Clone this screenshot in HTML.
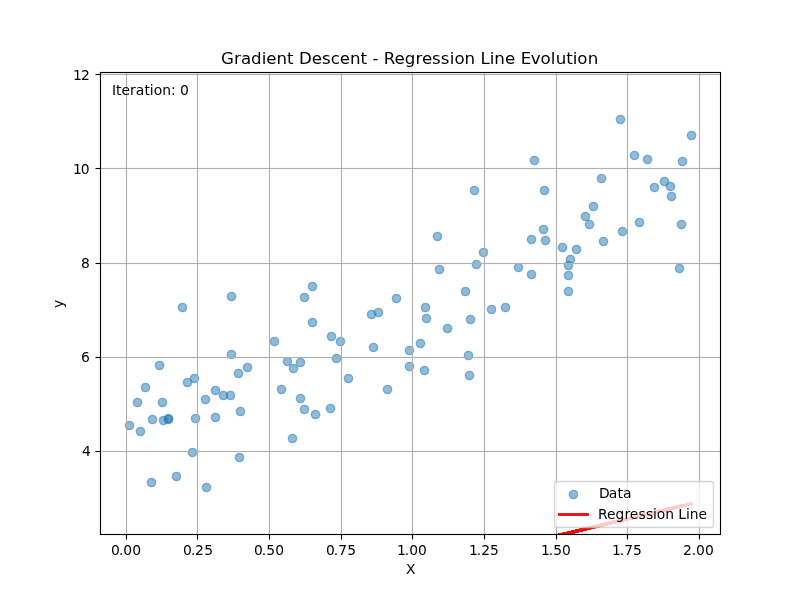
<!DOCTYPE html>
<html lang="en">
<head>
<meta charset="utf-8">
<title>Gradient Descent - Regression Line Evolution</title>
<style>
html,body{margin:0;padding:0;background:#fff;overflow:hidden}
body{width:800px;height:600px}
svg{display:block;position:absolute;left:0;top:0}
text{font-family:"DejaVu Sans","Liberation Sans",sans-serif;fill:#000;text-rendering:auto;font-kerning:none;white-space:pre}
.t10{font-size:13.889px}
.t12{font-size:16.667px}
.g{stroke:#b0b0b0;stroke-width:1.111;fill:none}
.k{stroke:#000;stroke-width:1.111;fill:none}
.d{fill:#1f77b4;fill-opacity:.5;stroke:#1f77b4;stroke-opacity:.5;stroke-width:1.389}
</style>
</head>
<body>
<svg width="800" height="600" viewBox="0 0 800 600">
<rect width="800" height="600" fill="#fff"/>
<g>
<circle class="d" cx="340.5" cy="341.5" r="4.167"/>
<circle class="d" cx="671.5" cy="196.5" r="4.167"/>
<circle class="d" cx="545.5" cy="240.5" r="4.167"/>
<circle class="d" cx="469.5" cy="375.5" r="4.167"/>
<circle class="d" cx="215.5" cy="417.5" r="4.167"/>
<circle class="d" cx="215.5" cy="390.5" r="4.167"/>
<circle class="d" cx="159.5" cy="365.5" r="4.167"/>
<circle class="d" cx="622.5" cy="231.5" r="4.167"/>
<circle class="d" cx="470.5" cy="319.5" r="4.167"/>
<circle class="d" cx="531.5" cy="274.5" r="4.167"/>
<circle class="d" cx="137.5" cy="402.5" r="4.167"/>
<circle class="d" cx="682.5" cy="161.5" r="4.167"/>
<circle class="d" cx="603.5" cy="241.5" r="4.167"/>
<circle class="d" cx="247.5" cy="367.5" r="4.167"/>
<circle class="d" cx="230.5" cy="395.5" r="4.167"/>
<circle class="d" cx="231.5" cy="354.5" r="4.167"/>
<circle class="d" cx="300.5" cy="398.5" r="4.167"/>
<circle class="d" cx="426.5" cy="318.5" r="4.167"/>
<circle class="d" cx="373.5" cy="347.5" r="4.167"/>
<circle class="d" cx="292.5" cy="438.5" r="4.167"/>
<circle class="d" cx="476.5" cy="264.5" r="4.167"/>
<circle class="d" cx="205.5" cy="399.5" r="4.167"/>
<circle class="d" cx="293.5" cy="368.5" r="4.167"/>
<circle class="d" cx="336.5" cy="358.5" r="4.167"/>
<circle class="d" cx="387.5" cy="389.5" r="4.167"/>
<circle class="d" cx="576.5" cy="249.5" r="4.167"/>
<circle class="d" cx="240.5" cy="411.5" r="4.167"/>
<circle class="d" cx="420.5" cy="343.5" r="4.167"/>
<circle class="d" cx="465.5" cy="291.5" r="4.167"/>
<circle class="d" cx="152.5" cy="419.5" r="4.167"/>
<circle class="d" cx="474.5" cy="190.5" r="4.167"/>
<circle class="d" cx="223.5" cy="395.5" r="4.167"/>
<circle class="d" cx="163.5" cy="420.5" r="4.167"/>
<circle class="d" cx="670.5" cy="186.5" r="4.167"/>
<circle class="d" cx="679.5" cy="268.5" r="4.167"/>
<circle class="d" cx="589.5" cy="224.5" r="4.167"/>
<circle class="d" cx="300.5" cy="362.5" r="4.167"/>
<circle class="d" cx="182.5" cy="307.5" r="4.167"/>
<circle class="d" cx="518.5" cy="267.5" r="4.167"/>
<circle class="d" cx="378.5" cy="312.5" r="4.167"/>
<circle class="d" cx="195.5" cy="418.5" r="4.167"/>
<circle class="d" cx="409.5" cy="366.5" r="4.167"/>
<circle class="d" cx="145.5" cy="387.5" r="4.167"/>
<circle class="d" cx="647.5" cy="159.5" r="4.167"/>
<circle class="d" cx="274.5" cy="341.5" r="4.167"/>
<circle class="d" cx="505.5" cy="307.5" r="4.167"/>
<circle class="d" cx="304.5" cy="297.5" r="4.167"/>
<circle class="d" cx="424.5" cy="370.5" r="4.167"/>
<circle class="d" cx="439.5" cy="269.5" r="4.167"/>
<circle class="d" cx="231.5" cy="296.5" r="4.167"/>
<circle class="d" cx="681.5" cy="224.5" r="4.167"/>
<circle class="d" cx="570.5" cy="259.5" r="4.167"/>
<circle class="d" cx="664.5" cy="181.5" r="4.167"/>
<circle class="d" cx="639.5" cy="222.5" r="4.167"/>
<circle class="d" cx="468.5" cy="355.5" r="4.167"/>
<circle class="d" cx="654.5" cy="187.5" r="4.167"/>
<circle class="d" cx="176.5" cy="476.5" r="4.167"/>
<circle class="d" cx="238.5" cy="373.5" r="4.167"/>
<circle class="d" cx="151.5" cy="482.5" r="4.167"/>
<circle class="d" cx="312.5" cy="286.5" r="4.167"/>
<circle class="d" cx="348.5" cy="378.5" r="4.167"/>
<circle class="d" cx="281.5" cy="389.5" r="4.167"/>
<circle class="d" cx="601.5" cy="178.5" r="4.167"/>
<circle class="d" cx="330.5" cy="408.5" r="4.167"/>
<circle class="d" cx="287.5" cy="361.5" r="4.167"/>
<circle class="d" cx="437.5" cy="236.5" r="4.167"/>
<circle class="d" cx="206.5" cy="487.5" r="4.167"/>
<circle class="d" cx="585.5" cy="216.5" r="4.167"/>
<circle class="d" cx="168.5" cy="418.5" r="4.167"/>
<circle class="d" cx="691.5" cy="135.5" r="4.167"/>
<circle class="d" cx="568.5" cy="291.5" r="4.167"/>
<circle class="d" cx="239.5" cy="457.5" r="4.167"/>
<circle class="d" cx="129.5" cy="425.5" r="4.167"/>
<circle class="d" cx="593.5" cy="206.5" r="4.167"/>
<circle class="d" cx="531.5" cy="239.5" r="4.167"/>
<circle class="d" cx="543.5" cy="229.5" r="4.167"/>
<circle class="d" cx="568.5" cy="265.5" r="4.167"/>
<circle class="d" cx="168.5" cy="419.5" r="4.167"/>
<circle class="d" cx="331.5" cy="336.5" r="4.167"/>
<circle class="d" cx="192.5" cy="452.5" r="4.167"/>
<circle class="d" cx="620.5" cy="119.5" r="4.167"/>
<circle class="d" cx="483.5" cy="252.5" r="4.167"/>
<circle class="d" cx="315.5" cy="414.5" r="4.167"/>
<circle class="d" cx="162.5" cy="402.5" r="4.167"/>
<circle class="d" cx="304.5" cy="409.5" r="4.167"/>
<circle class="d" cx="312.5" cy="322.5" r="4.167"/>
<circle class="d" cx="544.5" cy="190.5" r="4.167"/>
<circle class="d" cx="491.5" cy="309.5" r="4.167"/>
<circle class="d" cx="634.5" cy="155.5" r="4.167"/>
<circle class="d" cx="396.5" cy="298.5" r="4.167"/>
<circle class="d" cx="194.5" cy="378.5" r="4.167"/>
<circle class="d" cx="534.5" cy="160.5" r="4.167"/>
<circle class="d" cx="562.5" cy="247.5" r="4.167"/>
<circle class="d" cx="447.5" cy="328.5" r="4.167"/>
<circle class="d" cx="568.5" cy="275.5" r="4.167"/>
<circle class="d" cx="409.5" cy="350.5" r="4.167"/>
<circle class="d" cx="425.5" cy="307.5" r="4.167"/>
<circle class="d" cx="371.5" cy="314.5" r="4.167"/>
<circle class="d" cx="140.5" cy="431.5" r="4.167"/>
<circle class="d" cx="187.5" cy="382.5" r="4.167"/>
</g>
<g class="g" style="stroke-opacity:.06;stroke-width:3"><path d="M100.5 451.5H720.5"/><path d="M100.5 357.5H720.5"/><path d="M100.5 263.5H720.5"/><path d="M100.5 168.5H720.5"/><path d="M100.5 74.5H720.5"/></g>
<g class="g">
<path d="M126.5 72.5V534.5"/><path d="M197.5 72.5V534.5"/><path d="M269.5 72.5V534.5"/><path d="M341.5 72.5V534.5"/><path d="M412.5 72.5V534.5"/><path d="M484.5 72.5V534.5"/><path d="M556.5 72.5V534.5"/><path d="M627.5 72.5V534.5"/><path d="M699.5 72.5V534.5"/>
<path d="M100.5 451.5H720.5"/><path d="M100.5 357.5H720.5"/><path d="M100.5 263.5H720.5"/><path d="M100.5 168.5H720.5"/><path d="M100.5 74.5H720.5"/>
</g>
<g class="k">
<path d="M126.5 534.5V539.5"/><path d="M197.5 534.5V539.5"/><path d="M269.5 534.5V539.5"/><path d="M341.5 534.5V539.5"/><path d="M412.5 534.5V539.5"/><path d="M484.5 534.5V539.5"/><path d="M556.5 534.5V539.5"/><path d="M627.5 534.5V539.5"/><path d="M699.5 534.5V539.5"/>
<path d="M95.5 451.5H100.5"/><path d="M95.5 357.5H100.5"/><path d="M95.5 263.5H100.5"/><path d="M95.5 168.5H100.5"/><path d="M95.5 74.5H100.5"/>
</g>
<text class="t10" x="110.929 118.882 123.293 132.371" y="554.526">0.00</text>
<text class="t10" x="182.973 190.901 195.061 204.189" y="554.526">0.25</text>
<text class="t10" x="253.892 261.845 266.28 275.208" y="554.526">0.50</text>
<text class="t10" x="325.936 333.763 338.249 347.127" y="554.526">0.75</text>
<text class="t10" x="396.979 404.807 409.217 418.045" y="554.526">1.00</text>
<text class="t10" x="468.898 476.726 481.136 489.964" y="554.526">1.25</text>
<text class="t10" x="540.942 548.644 553.305 561.883" y="554.526">1.50</text>
<text class="t10" x="611.985 619.813 624.224 633.051" y="554.526">1.75</text>
<text class="t10" x="682.904 691.832 696.092 705.07" y="554.526">2.00</text>
<text class="t10" x="81.95" y="455.518">4</text>
<text class="t10" x="80.95" y="361.543">6</text>
<text class="t10" x="80.95" y="267.568">8</text>
<text class="t10" x="72.997 80.7" y="173.593">10</text>
<text class="t10" x="73.122 80.95" y="79.618">12</text>
<text class="t10" x="405.997" y="573.523">X</text>
<text class="t10" transform="translate(62.66 304) rotate(-90)" x="-4.106" y="0">y</text>
<g fill="#f00" shape-rendering="crispEdges">
<path d="M690 502h1v1h-1zM686 503h6v1h-6zM680 504h12v1h-12zM676 505h14v1h-14zM672 506h14v1h-14zM668 507h14v1h-14zM663 508h16v1h-16zM659 509h16v1h-16zM655 510h15v1h-15zM651 511h15v1h-15zM646 512h16v1h-16zM642 513h16v1h-16zM638 514h16v1h-16zM634 515h16v1h-16zM630 516h15v1h-15zM625 517h16v1h-16zM621 518h16v1h-16zM617 519h16v1h-16zM613 520h16v1h-16zM609 521h16v1h-16zM604 522h16v1h-16zM600 523h16v1h-16zM596 524h16v1h-16zM592 525h16v1h-16zM588 526h16v1h-16zM583 527h17v1h-17zM579 528h16v1h-16zM575 529h16v1h-16zM571 530h16v1h-16zM567 531h16v1h-16zM563 532h16v1h-16zM558 533h16v1h-16z"/>
<path fill-opacity="0.2" d="M688 502h1v1h-1zM692 502h1v1h-1zM684 503h1v1h-1zM675 505h1v1h-1zM691 505h1v1h-1zM654 510h1v1h-1zM662 512h1v1h-1zM633 515h1v1h-1zM637 518h1v1h-1zM612 520h1v1h-1zM591 529h1v1h-1zM566 531h1v1h-1z"/>
<path fill-opacity="0.4" d="M692 504h1v1h-1zM671 506h1v1h-1zM686 506h1v1h-1zM682 507h1v1h-1zM650 511h1v1h-1zM666 511h1v1h-1zM629 516h1v1h-1zM641 517h1v1h-1zM608 521h1v1h-1zM616 523h1v1h-1zM587 526h1v1h-1z"/>
<path fill-opacity="0.6" d="M689 502h1v1h-1zM691 502h1v1h-1zM692 503h1v1h-1zM690 505h1v1h-1zM595 528h1v1h-1z"/>
<path fill-opacity="0.8" d="M685 503h1v1h-1zM667 507h1v1h-1zM670 510h1v1h-1zM645 516h1v1h-1zM620 522h1v1h-1zM562 532h1v1h-1zM574 533h1v1h-1z"/>
</g>
<path class="k" style="stroke-opacity:.06;stroke-width:3" d="M100 534.5H721M100 72.5H721"/>
<path class="k" stroke-linecap="square" d="M100.5 72.5V534.5M720.5 72.5V534.5M100.5 534.5H720.5M100.5 72.5H720.5"/>
<text class="t10" x="111.9 115.992 121.432 129.969 135.673 144.426 149.866 153.721 162.21 171.004 175.679 180.089" y="94.6">Iteration: 0</text>
<text class="t12" x="220.959 234.062 240.907 251.11 261.68 266.306 276.549 287.102 293.631 298.923 311.744 321.988 330.663 339.817 350.061 360.614 367.142 372.435 378.443 383.736 394.574 404.818 415.387 421.875 432.119 440.794 449.769 454.395 464.582 474.834 480.427 489.704 494.33 504.882 514.826 520.819 530.639 540.493 550.68 555.656 566.208 572.737 577.363 587.8" y="63.667">Gradient Descent - Regression Line Evolution</text>
<rect x="554.5" y="481.5" width="159" height="46" rx="2.778" ry="2.778" fill="#fff" stroke="#ccc" stroke-width="1.389" opacity="0.8"/>
<circle class="d" cx="573.5" cy="494.5" r="4.167"/>
<text class="t10" x="598.929 608.738 617.616 623.056" y="497.725">Data</text>
<path d="M558 514.5H589" stroke="#f00" stroke-width="2.8" fill="none"/>
<text class="t10" x="597.929 606.945 615.481 624.414 629.743 638.505 645.984 653.013 656.818 665.257 673.75 678.211 686.041 689.846 698.54" y="518.612">Regression Line</text>
</svg>
</body>
</html>
